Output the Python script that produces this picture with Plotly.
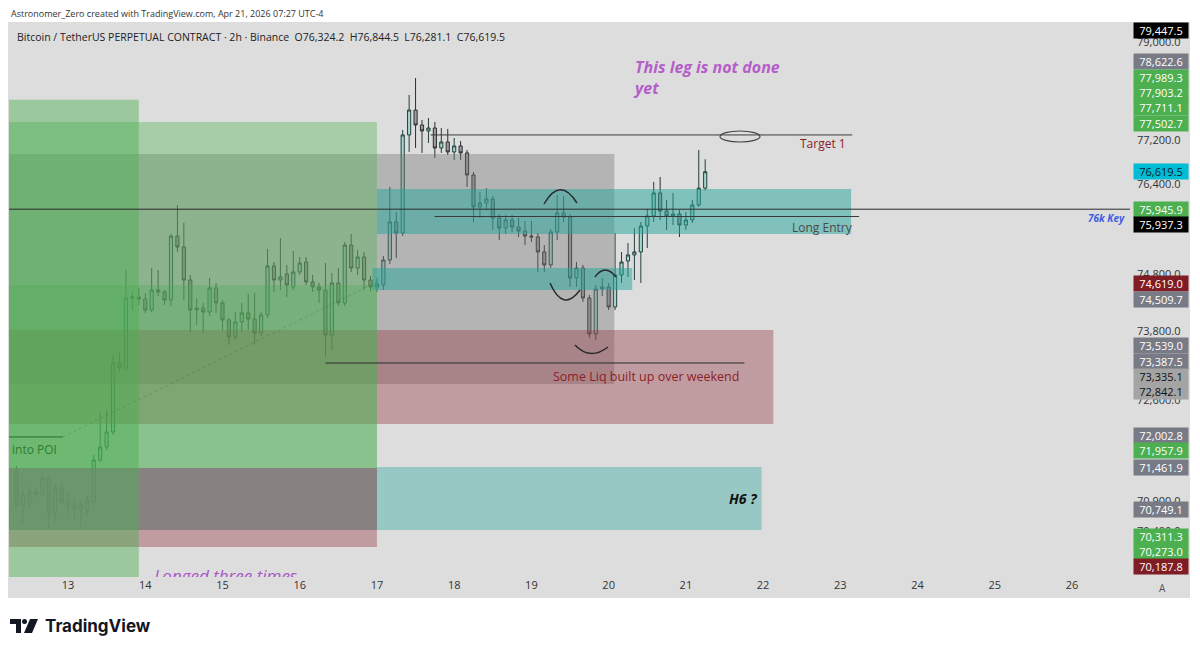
import math
import pandas as pd
import plotly.graph_objects as go

# BTCUSDT perp, 2h candles
opens = [71417, 70830, 70863, 71047, 71014, 71282, 70696, 71115, 70880, 70830,
         70763, 70746, 70880, 71585, 71805, 72059, 73241, 73155, 74372, 74390,
         74355, 74162, 74513, 74478, 74337, 75467, 75272, 74689, 74162, 74197,
         74127, 74548, 74285, 73988, 73692, 73953, 74110, 74005, 73761, 74075,
         74936, 74689, 74795, 74566, 74830, 75006, 74654, 74566, 74513, 73726,
         74636, 74285, 75307, 74900, 75095, 74689, 74566, 74601, 75042, 75717,
         75521, 77287, 77743, 77469, 77360, 77414, 77050, 77159, 76978, 77087,
         76960, 76561, 75986, 76057, 76129, 75789, 75610, 75753, 75628, 75556,
         75467, 75450, 75184, 74954, 75539, 75878, 75807, 74724, 74900, 74372,
         73744, 74530, 74566, 74215, 74777, 75024, 75131, 75184, 75646, 75825,
         76237, 75914, 75825, 75860, 75663, 75753, 76022, 76324.2]
highs = [71484, 71081, 71165, 71115, 71366, 71316, 71181, 71215, 71047, 70913,
         70913, 70997, 71669, 72383, 72434, 73380, 73431, 74865, 74478, 74548,
         74460, 74900, 74865, 74513, 75503, 76022, 75700, 74777, 74372, 74285,
         74724, 74636, 74337, 74023, 74127, 74285, 74443, 74460, 74127, 75237,
         75006, 75432, 74954, 75201, 75095, 75095, 74777, 74636, 74989, 74812,
         74900, 75361, 75503, 75219, 75184, 74759, 74724, 75113, 76345, 75896,
         77378, 78019, 78332, 77560, 77597, 77524, 77414, 77396, 77232, 77177,
         77014, 76615, 76255, 76327, 76183, 75860, 75843, 75843, 75789, 75735,
         75735, 75521, 75307, 75592, 76201, 76183, 75860, 75006, 74954, 74425,
         74601, 74724, 74636, 75521, 75184, 75343, 75610, 75717, 75950, 76435,
         76525, 76111, 76237, 75932, 75896, 76111, 77014, 76844.5]
lows = [70796, 70530, 70779, 70947, 70980, 70446, 70547, 70830, 70613, 70580,
        70463, 70663, 70830, 71551, 71754, 72008, 73086, 73120, 74162, 74250,
        74110, 74127, 74407, 74250, 74232, 75184, 74337, 73778, 73900, 73761,
        74058, 74110, 73813, 73553, 73640, 73778, 73813, 73553, 73709, 74023,
        74478, 74513, 74390, 74513, 74777, 74601, 74478, 74285, 73345, 73466,
        74232, 74232, 74830, 74777, 74513, 74495, 74478, 74513, 74971, 75077,
        75467, 76978, 77050, 76960, 77141, 76868, 76960, 76923, 76832, 76832,
        76345, 75717, 75789, 75932, 75574, 75396, 75503, 75539, 75450, 75307,
        75361, 74830, 74830, 74900, 75396, 75717, 74566, 74566, 74302, 73675,
        73640, 74407, 74162, 74162, 74636, 74742, 74689, 74636, 75254, 75717,
        75753, 75574, 75663, 75450, 75574, 75699, 75986, 76281.1]
closes = [70830, 70997, 71047, 71014, 71282, 70696, 71115, 70880, 70830, 70763,
          70830, 70913, 71585, 71805, 72059, 73241, 73155, 74372, 74390, 74355,
          74162, 74513, 74478, 74337, 75467, 75272, 74689, 74162, 74197, 74127,
          74548, 74285, 73988, 73692, 73953, 74110, 74005, 73761, 74075, 74936,
          74689, 74742, 74601, 74830, 74989, 74654, 74566, 74513, 73726, 74636,
          74285, 75307, 74900, 75095, 74689, 74566, 74619, 75042, 75717, 75521,
          77287, 77743, 77469, 77360, 77414, 77050, 77159, 76978, 77087, 76960,
          76561, 75986, 76057, 76129, 75789, 75610, 75753, 75628, 75556, 75467,
          75450, 75184, 74954, 75539, 75878, 75807, 74724, 74900, 74372, 73744,
          74530, 74566, 74215, 74777, 75006, 75131, 75184, 75646, 75825, 76237,
          75914, 75825, 75860, 75663, 75753, 76022, 76324, 76619.5]
times = pd.date_range('2026-04-12 08:00', periods=len(opens), freq='2h')
last_price = closes[-1]

# drawn zones: start, end, low, high
zones = [
    ('2026-04-12 00:00', '2026-04-20 01:45', 72880, 76940),   # grey range
    ('2026-04-12 00:00', '2026-04-22 03:10', 72195, 73813),   # liq zone
    ('2026-04-12 00:00', '2026-04-17 00:00', 70131, 71450),
    ('2026-04-12 00:00', '2026-04-17 00:00', 70413, 71450),
    ('2026-04-12 00:00', '2026-04-17 00:00', 71450, 77525),
    ('2026-04-12 00:00', '2026-04-17 00:00', 71450, 74600),
    ('2026-04-12 00:00', '2026-04-13 22:00', 69000, 77930),   # POI column
    ('2026-04-17 00:00', '2026-04-23 03:20', 75503, 76309),   # long entry box
    ('2026-04-16 22:40', '2026-04-20 07:20', 74513, 74900),
    ('2026-04-17 00:00', '2026-04-21 23:30', 70413, 71467),   # H6 box
]
zone_colors = ['rgba(120,120,120,0.40)', 'rgba(150,60,70,0.40)', 'rgba(150,60,70,0.40)',
               'rgba(125,125,125,0.85)', 'rgba(76,175,80,0.37)', 'rgba(76,175,80,0.32)',
               'rgba(76,175,80,0.45)', 'rgba(38,166,154,0.50)', 'rgba(38,166,154,0.50)',
               'rgba(38,166,154,0.38)']

# horizontal drawings: start, end, price
key_level = 75945.9
target_line = ('2026-04-17 16:40', '2026-04-23 03:40', 77287)
entry_line = ('2026-04-17 17:55', '2026-04-23 05:50', 75815)
liq_line = ('2026-04-16 08:00', '2026-04-21 18:10', 73241)
poi_line = ('2026-04-12 00:00', '2026-04-12 22:25', 71975)
trend_dots = (('2026-04-12 22:25', 71975), ('2026-04-17 00:00', 74654))

# right price scale labels
label_values = [79447.5, 78622.6, 77989.3, 77903.2, 77711.1, 77502.7, 76619.5,
                75945.9, 75937.3, 74619.0, 74509.7, 73539.0, 73387.5, 73335.1,
                72842.1, 72002.8, 71957.9, 71461.9, 70749.1, 70311.3, 70273.0, 70187.8]
GREEN, GREY, RED, LGREY = '#4caf50', '#787b86', '#801c24', '#a4a4a4'
label_bg = ['#000000', GREY, GREEN, GREEN, GREEN, GREEN, '#00bcd4',
            GREEN, '#000000', RED, GREY, GREY, GREY, LGREY,
            LGREY, GREY, GREEN, GREY, GREY, GREEN, GREEN, RED]
label_fg = ['white'] * 6 + ['#0b1a2a'] + ['white'] * 6 + ['#111111', '#111111'] + ['white'] * 7

tick_values = [79000, 77200, 76400, 74800, 73800, 72600, 70900, 70400]
day_ticks = list(range(13, 27))

# page geometry (the page body adds an 8px offset around the figure)
BODY = 8
FIG_W, FIG_H = 1200 - 2 * BODY, 653 - 2 * BODY
PLOT_L, PLOT_R, PLOT_T, PLOT_B = 9, 1130, 22, 577
X_START, X_END = pd.Timestamp('2026-04-12 05:40'), pd.Timestamp('2026-04-26 18:00')
LOG_TOP, LOG_BOT = math.log10(79373), math.log10(69637)
LABEL_H = 15.3


def px(x):
    return (x - PLOT_L) / (PLOT_R - PLOT_L)


def py(y):
    return (PLOT_B - y) / (PLOT_B - PLOT_T)


def ly(v):
    return math.log10(v)


def yp(v):
    # price -> paper fraction on the log scale, kept inside the pane
    return min(1.0, max(0.0, (ly(v) - LOG_BOT) / (LOG_TOP - LOG_BOT)))


def xc(t):
    return max(pd.Timestamp(t), X_START)


def price_pixel(v):
    return PLOT_T + (LOG_TOP - ly(v)) / (LOG_TOP - LOG_BOT) * (PLOT_B - PLOT_T)


fig = go.Figure()

fig.add_trace(go.Candlestick(
    x=times, open=opens, high=highs, low=lows, close=closes,
    increasing=dict(fillcolor='#a6d6cd', line=dict(color='#22403c', width=1)),
    decreasing=dict(fillcolor='#9d9d9d', line=dict(color='#2e2e2e', width=1)),
    whiskerwidth=0, showlegend=False, hoverinfo='skip'
))

# text that runs under the time axis, clipped like on TV
fig.add_trace(go.Scatter(
    x=[pd.Timestamp('2026-04-15 01:00')], y=[69625], mode='text',
    text=['<i>Longed three times</i>'], textfont=dict(color='#a855c8', size=17),
    cliponaxis=True, showlegend=False, hoverinfo='skip'
))

# chart panel background (price scale + time scale)
fig.add_shape(type='rect', xref='paper', yref='paper', x0=px(8), x1=px(1190),
              y0=py(598), y1=py(22), fillcolor='#dddddd', line_width=0, layer='below')

for (x0, x1, lo, hi), col in zip(zones, zone_colors):
    fig.add_shape(type='rect', xref='x', yref='paper', x0=xc(x0), x1=xc(x1), y0=yp(lo), y1=yp(hi),
                  fillcolor=col, line_width=0, layer='above')

fig.add_shape(type='line', xref='paper', yref='paper', x0=0, x1=1, y0=yp(key_level), y1=yp(key_level),
              line=dict(color='#2b2b2b', width=1))
for (x0, x1, p), col in zip([target_line, entry_line, liq_line, poi_line],
                            ['#3a3a3a', '#3a3a3a', '#2b2b2b', '#2e6b30']):
    fig.add_shape(type='line', xref='x', yref='paper', x0=xc(x0), x1=xc(x1), y0=yp(p), y1=yp(p),
                  line=dict(color=col, width=1))
fig.add_shape(type='line', xref='x', yref='paper', x0=trend_dots[0][0], x1=trend_dots[1][0],
              y0=yp(trend_dots[0][1]), y1=yp(trend_dots[1][1]),
              line=dict(color='rgba(60,60,60,0.22)', width=1, dash='dot'))

# hand drawn arcs (pixel sketch)
arcs = [((544, 204), (560, 176), (577, 203)),
        ((550, 283), (563, 313), (580, 290)),
        ((595, 277), (605, 263), (616, 277)),
        ((575, 345), (590, 361), (608, 347))]
for a, c, b in arcs:
    fig.add_shape(type='path', xref='paper', yref='paper',
                  path=f'M {px(a[0])},{py(a[1])} Q {px(c[0])},{py(c[1])} {px(b[0])},{py(b[1])}',
                  line=dict(color='#2b2b2b', width=1.5))
fig.add_shape(type='circle', xref='paper', yref='paper', x0=px(720), x1=px(760),
              y0=py(142), y1=py(131), line=dict(color='#444444', width=1.2))


def note(x, y, text, color, size, xanchor='center', xref='x', yref='y', **kw):
    fig.add_annotation(x=x, y=y, xref=xref, yref=yref, text=text, showarrow=False,
                       xanchor=xanchor, yanchor='middle', font=dict(color=color, size=size), **kw)


# drawing texts
note('2026-04-20 07:05', ly(78332), '<b><i>This leg is not done<br>yet</i></b>', '#b45fc9', 16,
     xanchor='left', align='left')
note('2026-04-23 02:25', ly(77123), 'Target 1', '#8c1c28', 12, xanchor='right')
note('2026-04-23 04:38', ly(75610), 'Long Entry', '#4a4a4a', 12, xanchor='right')
note('2026-04-20 11:45', ly(73000), 'Some Liq built up over weekend', '#8c1c28', 12.5)
note('2026-04-12 05:50', ly(71767), 'into POI', '#2f7d32', 12, xanchor='left')
note('2026-04-21 22:40', ly(70930), '<b><i>H6 ?</i></b>', '#111111', 14, xanchor='right')
note(px(1127), py(218), '<b><i>76k Key</i></b>', '#3f5fe0', 10, xanchor='right', xref='paper', yref='paper')

# header texts
note(px(9), py(14), 'Astronomer_Zero created with TradingView.com, Apr 21, 2026 07:27 UTC-4',
     '#333333', 9, xanchor='left', xref='paper', yref='paper')
note(px(15), py(37),
     'Bitcoin / TetherUS PERPETUAL CONTRACT · 2h · Binance  O76,324.2  H76,844.5  L76,281.1  C76,619.5',
     '#222222', 10.5, xanchor='left', xref='paper', yref='paper')

# price scale labels: pushed away from the last price label, like TradingView
pos = {}
above = sorted([v for v in label_values if v > last_price])
below = sorted([v for v in label_values if v < last_price], reverse=True)
pos[last_price] = price_pixel(last_price)
prev = None
for v in above:                       # bottom -> top, push upward
    y = price_pixel(v)
    if prev is not None:
        y = min(y, prev - LABEL_H)
    pos[v] = max(y, PLOT_T + 9)
    prev = y
prev = pos[last_price]
for v in below:                       # top -> bottom, push downward
    y = max(price_pixel(v), prev + LABEL_H)
    pos[v] = y
    prev = y

for v, bg, fg in zip(label_values, label_bg, label_fg):
    note(px(1133), py(pos[v]), f'{v:,.1f}', fg, 11, xanchor='left', xref='paper', yref='paper',
         bgcolor=bg, width=52, height=13, borderpad=1)

note(px(1162), py(588), 'A', '#555555', 10, xref='paper', yref='paper')


# TradingView watermark
def poly(points):
    return 'M ' + ' L '.join(f'{px(x)},{py(y)}' for x, y in points) + ' Z'


fig.add_shape(type='path', xref='paper', yref='paper',
              path=poly([(10, 619), (21, 619), (21, 633), (16, 633), (16, 624), (10, 624)]),
              fillcolor='#131722', line_width=0)
fig.add_shape(type='circle', xref='paper', yref='paper', x0=px(22), x1=px(27),
              y0=py(624), y1=py(619), fillcolor='#131722', line_width=0)
fig.add_shape(type='path', xref='paper', yref='paper',
              path=poly([(30, 619), (38, 619), (32, 633), (24, 633)]),
              fillcolor='#131722', line_width=0)
fig.add_annotation(x=px(43), y=py(626), xref='paper', yref='paper', xanchor='left', yanchor='middle',
                   text='<b>TradingView</b>', showarrow=False,
                   font=dict(color='#131722', size=17, family='Inter'))

fig.update_layout(
    width=FIG_W, height=FIG_H,
    margin=dict(l=PLOT_L - BODY, r=FIG_W + BODY - PLOT_R, t=PLOT_T - BODY, b=FIG_H + BODY - PLOT_B),
    paper_bgcolor='white', plot_bgcolor='#dddddd',
    font=dict(family='Open Sans', color='#333333'),
    showlegend=False,
    xaxis=dict(type='date', range=[X_START, X_END],
               tickvals=[f'2026-04-{d:02d}' for d in day_ticks], ticktext=[str(d) for d in day_ticks],
               showgrid=False, zeroline=False, showline=False, ticks='',
               tickfont=dict(size=11, color='#333333'), rangeslider=dict(visible=False)),
    yaxis=dict(type='log', side='right', range=[LOG_BOT, LOG_TOP],
               tickvals=tick_values, ticktext=[f'{v:,.1f}' for v in tick_values],
               showgrid=False, zeroline=False, showline=False, ticks='',
               tickfont=dict(size=11, color='#333333'), ticklabelstandoff=6),
)

fig.write_html('out.html')
